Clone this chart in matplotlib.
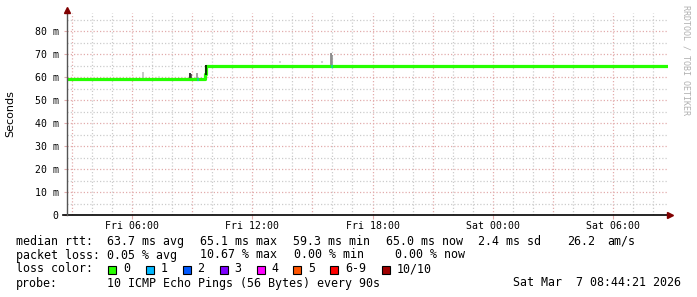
import matplotlib
matplotlib.use('Agg')
import matplotlib.pyplot as plt
from matplotlib.patches import Rectangle

# Datos del grafico (horas desde el viernes 00:00)
t_ini, t_fin = 2.75, 32.75
tick_horas = [6, 12, 18, 24, 30]
tick_textos = ['Fri 06:00', 'Fri 12:00', 'Fri 18:00', 'Sat 00:00', 'Sat 06:00']
y_ticks = [0, 10, 20, 30, 40, 50, 60, 70, 80]
y_textos = ['0', '10 m', '20 m', '30 m', '40 m', '50 m', '60 m', '70 m', '80 m']

# mediana (ms), escalonada
med_t = [2.75, 9.62, 9.69, 32.75]
med_v = [59.4, 61.5, 65.1, 65.1]

# humo (rango de pings) como barras verticales
humo_t = [6.54, 7.35, 8.89, 8.93, 9.23, 9.69, 13.38, 15.48, 15.93, 15.97]
humo_lo = [59.6, 59.6, 59.5, 59.5, 59.6, 61.0, 66.4, 66.2, 65.5, 65.5]
humo_hi = [62.2, 60.6, 61.8, 61.5, 61.8, 65.3, 66.9, 66.9, 70.5, 69.5]
humo_col = ['#b8b8b8', '#dddddd', '#000000', '#333333', '#8a8a8a', '#000000',
            '#cccccc', '#c4c4c4', '#777777', '#8c8c8c']

# perdida 1/10 sobre la mediana
perd_t = [9.27, 15.95]
perd_v = [59.1, 65.1]

colores_perdida = ['#26ff00', '#00b8ff', '#0059ff', '#7e00ff', '#ff00ff', '#ff5500', '#ff0000', '#a00000']
etiquetas_perdida = ['0', '1', '2', '3', '4', '5', '6-9', '10/10']

rtt_textos = ['63.7 ms avg', '65.1 ms max', '59.3 ms min', '65.0 ms now', '2.4 ms sd', '26.2', 'am/s']
loss_textos = ['0.05 % avg', '10.67 % max', '0.00 % min', '0.00 % now']
sonda = '10 ICMP Echo Pings (56 Bytes) every 90s'
fecha = 'Sat Mar  7 08:44:21 2026'

W, H = 697, 297
fig = plt.figure(figsize=(W / 100, H / 100), dpi=100)
fig.patch.set_facecolor('white')
ax = fig.add_axes([67 / W, 1 - 215.3 / H, 601 / W, (215.3 - 13) / H])
ax.set_xlim(t_ini, t_fin)
ax.set_ylim(0, (215.3 - 13) / 2.3)
for s in ax.spines.values():
    s.set_visible(False)

# rejilla
punteado = (0, (1, 1.6))
gris, rosa = '#cccccc', '#e2acac'
for h in range(3, 33):
    ax.axvline(h, color=rosa if h % 3 == 0 else gris, lw=0.9, ls=punteado, zorder=1)
for v in range(5, 90, 5):
    ax.axhline(v, color=rosa if v % 10 == 0 else gris, lw=0.9, ls=punteado, zorder=1)

# humo
ax.vlines(humo_t, humo_lo, humo_hi, colors=humo_col, lw=1.1, zorder=3)

# mediana
ax.plot(med_t, med_v, drawstyle='steps-post', color=colores_perdida[0], lw=2.3, zorder=4)
ax.vlines(9.69, 61.0, 65.3, color='black', lw=1.1, zorder=5)
for t, v in zip(perd_t, perd_v):
    ax.plot([t - 0.03, t + 0.03], [v, v], color=colores_perdida[1], lw=2.3,
            solid_capstyle='butt', zorder=5)

# ejes con flechas
ax.plot([t_ini - 0.2, t_fin], [0, 0], color='black', lw=1.2, clip_on=False, zorder=6)
ax.plot([t_ini, t_ini], [0, ax.get_ylim()[1] + 0.5], color='#555555', lw=1, clip_on=False, zorder=6)
ax.plot([t_fin + 0.1], [0], marker='>', color='#800000', ms=4, clip_on=False, zorder=7)
ax.plot([t_ini], [ax.get_ylim()[1] + 1.2], marker='^', color='#800000', ms=4, clip_on=False, zorder=7)

mono = 'DejaVu Sans Mono'
ax.set_xticks(tick_horas)
ax.set_xticklabels(tick_textos, family=mono, fontsize=7.1)
ax.set_yticks(y_ticks)
ax.set_yticklabels(y_textos, family=mono, fontsize=7.1)
ax.tick_params(axis='x', length=3, pad=1, color=rosa)
ax.tick_params(axis='y', length=2, pad=4, color=rosa)

fig.text(10 / W, 1 - 114 / H, 'Seconds', rotation=90, ha='center', va='center',
         fontsize=8, family='DejaVu Sans')
fig.text(686 / W, 1 - 5 / H, 'RRDTOOL / TOBI OETIKER', rotation=270, ha='center', va='top',
         fontsize=6, family=mono, color='#b0b0b0')

# leyenda
def texto(x, y, s):
    fig.text(x / W, 1 - y / H, s, ha='left', va='center', fontsize=8.4, family=mono)

texto(16, 241.5, 'median rtt:')
for x, s in zip([107, 200, 293, 386, 478, 567, 607], rtt_textos):
    texto(x, 241.5, s)
texto(16, 255, 'packet loss:')
for x, s in zip([107, 200, 294, 395], loss_textos):
    texto(x, 255, s)
texto(16, 269, 'loss color:')
cuadros_x = [108, 145.5, 182.5, 219.5, 256.5, 293, 330, 381.5]
for x, c, s in zip(cuadros_x, colores_perdida, etiquetas_perdida):
    fig.patches.append(Rectangle((x / W, 1 - 273.5 / H), 8 / W, 8 / H, transform=fig.transFigure,
                                 facecolor=c, edgecolor='black', lw=0.8))
    texto(x + 15, 269, s)
texto(16, 283, 'probe:')
texto(107, 283, sonda)
texto(513, 283, fecha)

plt.savefig('out.png', dpi=100)
